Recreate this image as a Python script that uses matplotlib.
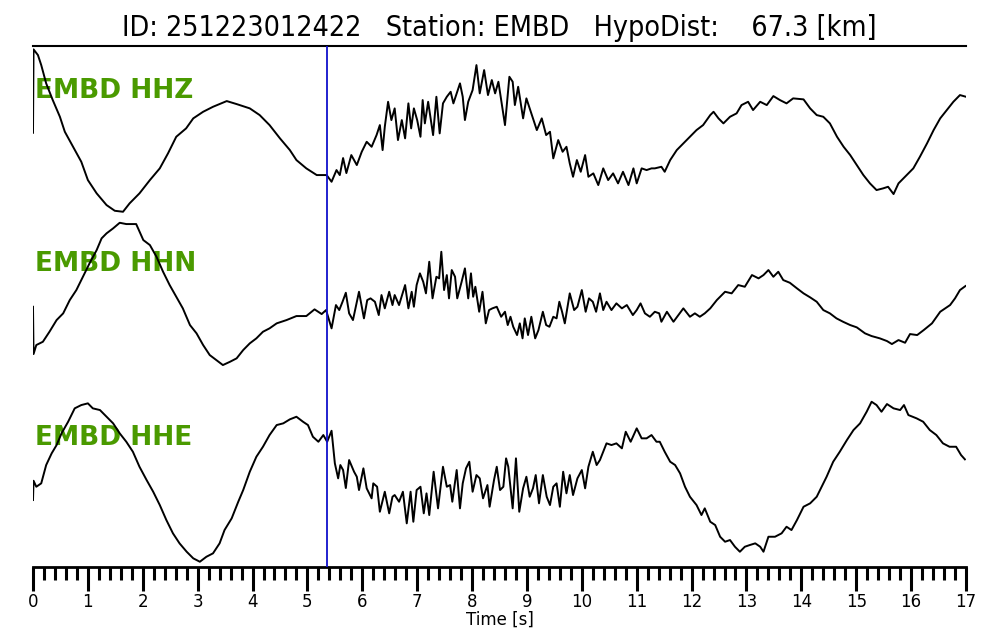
import matplotlib
matplotlib.use("Agg")
import matplotlib.pyplot as plt
import numpy as np
from matplotlib.ticker import MultipleLocator

# ---------------- data ----------------
title = "ID: 251223012422   Station: EMBD   HypoDist:    67.3 [km]"
channels = ["EMBD HHZ", "EMBD HHN", "EMBD HHE"]
pick_time = 5.354  # s

hhz_t = [0.00, 0.01, 0.09, 0.15, 0.24, 0.36, 0.49, 0.58, 0.73, 0.88, 1.00, 1.16, 1.34, 1.49, 1.64, 1.76,
         1.94, 2.13, 2.31, 2.46, 2.61, 2.79, 2.92, 3.10, 3.28, 3.53, 3.71, 3.95, 4.13, 4.31, 4.50, 4.68,
         4.80, 4.98, 5.17, 5.35, 5.44, 5.53, 5.59, 5.65, 5.71, 5.80, 5.90, 5.99, 6.08, 6.17, 6.26, 6.32,
         6.37, 6.41, 6.47, 6.53, 6.59, 6.65, 6.72, 6.78, 6.84, 6.89, 6.94, 7.00, 7.06, 7.10, 7.14, 7.20,
         7.24, 7.29, 7.35, 7.41, 7.47, 7.54, 7.61, 7.66, 7.72, 7.78, 7.83, 7.87, 7.93, 8.01, 8.08, 8.14,
         8.22, 8.29, 8.36, 8.42, 8.48, 8.54, 8.60, 8.68, 8.74, 8.78, 8.84, 8.93, 8.99, 9.08, 9.18, 9.27,
         9.35, 9.42, 9.48, 9.57, 9.65, 9.72, 9.78, 9.84, 9.91, 9.98, 10.06, 10.12, 10.21, 10.30, 10.39,
         10.48, 10.57, 10.66, 10.75, 10.85, 10.94, 11.00, 11.09, 11.18, 11.27, 11.33, 11.45, 11.51, 11.61,
         11.73, 11.85, 11.97, 12.09, 12.21, 12.34, 12.40, 12.49, 12.58, 12.70, 12.82, 12.91, 13.03, 13.12,
         13.25, 13.37, 13.49, 13.61, 13.73, 13.85, 14.04, 14.16, 14.28, 14.40, 14.52, 14.65, 14.77, 14.89,
         15.01, 15.13, 15.25, 15.37, 15.49, 15.58, 15.68, 15.77, 15.89, 16.04, 16.16, 16.29, 16.41, 16.53,
         16.65, 16.77, 16.89, 17.00]
hhz_a = [-2.7, 80.7, 75, 65, 46.7, 30, 13.3, -1.7, -16.7, -31.7, -50, -63.3, -75, -80.7, -81.7, -73.3,
         -63.3, -50, -38.3, -23.3, -6.7, 1.7, 11.7, 18.3, 23.3, 29, 26, 21.7, 15, 5, -8.3, -20,
         -30, -38.3, -45, -45, -51.7, -40, -45, -28, -43, -25, -35, -21.7, -11.7, -16.7, -5, 5,
         -20, 3.3, 28.3, 10, 21.7, -10, 10, -8.3, 26.7, 1.7, 21.7, 10, -6.7, 30, 6.7, 28.3,
         13.3, -5, 33.3, -3.3, 26.7, 33.3, 38.3, 26.7, 36.7, 46.7, 33.3, 10, 28.3, 40, 65, 36.7,
         60, 35, 50, 36.7, 48.3, 26.7, 5, 53.3, 48.3, 25, 43.3, 11.7, 31.7, 16.7, 0, 11.7,
         -5, -1.7, -28.3, -10, -21.7, -16.7, -33.3, -46.7, -30, -41.7, -25, -46.7, -43.3, -55, -38.3,
         -50, -43.3, -53.3, -41.7, -55, -38.3, -53.3, -38.3, -40, -38.3, -38.3, -36.7, -41.7, -30,
         -20, -13.3, -6.7, 0, 5, 15, 18.3, 11.7, 6.7, 13.3, 16.7, 25, 28.3, 20,
         28.3, 25, 34, 30, 26.7, 31.7, 30.7, 21.7, 15, 13.3, 6.7, -6.7, -16.7, -25,
         -35, -45, -53.3, -60, -58.3, -56.7, -64, -53.3, -46.7, -38.3, -26.7, -13.3, 0, 11.7,
         20, 28.3, 35, 33.3]

hhn_t = [0.00, 0.01, 0.06, 0.18, 0.30, 0.43, 0.55, 0.67, 0.79, 0.91, 1.03, 1.16, 1.25, 1.34, 1.46, 1.58,
         1.70, 1.88, 2.01, 2.13, 2.25, 2.37, 2.49, 2.61, 2.73, 2.86, 2.98, 3.10, 3.22, 3.34, 3.46, 3.59,
         3.71, 3.83, 3.95, 4.07, 4.19, 4.31, 4.44, 4.62, 4.80, 4.98, 5.13, 5.26, 5.34, 5.44, 5.52, 5.58,
         5.64, 5.70, 5.76, 5.83, 5.94, 6.03, 6.09, 6.15, 6.23, 6.30, 6.35, 6.41, 6.49, 6.55, 6.59, 6.67,
         6.78, 6.84, 6.90, 6.94, 6.99, 7.05, 7.11, 7.16, 7.22, 7.28, 7.35, 7.40, 7.44, 7.49, 7.54, 7.58,
         7.63, 7.69, 7.73, 7.81, 7.87, 7.93, 7.98, 8.02, 8.06, 8.13, 8.19, 8.25, 8.31, 8.37, 8.45, 8.53,
         8.60, 8.65, 8.70, 8.75, 8.82, 8.87, 8.92, 8.96, 9.02, 9.08, 9.15, 9.21, 9.29, 9.35, 9.41, 9.48,
         9.54, 9.59, 9.64, 9.69, 9.78, 9.86, 9.92, 10.00, 10.07, 10.13, 10.20, 10.26, 10.33, 10.39, 10.45,
         10.54, 10.63, 10.73, 10.82, 10.93, 11.00, 11.07, 11.15, 11.24, 11.33, 11.41, 11.45, 11.55, 11.67,
         11.76, 11.85, 11.97, 12.06, 12.15, 12.24, 12.34, 12.46, 12.61, 12.73, 12.85, 12.97, 13.10, 13.22,
         13.31, 13.40, 13.49, 13.58, 13.67, 13.79, 13.92, 14.04, 14.16, 14.28, 14.40, 14.52, 14.64, 14.76,
         14.89, 15.01, 15.16, 15.28, 15.43, 15.56, 15.65, 15.77, 15.89, 15.98, 16.11, 16.23, 16.38, 16.53,
         16.71, 16.80, 16.89, 16.99]
hhn_a = [-12.7, -60, -51, -47.7, -37.7, -26, -19.3, -6, 4, 17.3, 30.7, 44, 55.7, 60.7, 65.7, 71.3,
         70, 70, 54, 49, 37.3, 22.3, 9, -2.7, -14.3, -31, -39.3, -51, -61, -66, -71, -67.7,
         -64.3, -56, -49.3, -44.3, -37.7, -34.3, -29.3, -26, -22, -22, -15.3, -20, -16, -34.3, -11, -16,
         -7.7, 1.3, -19.3, -26, 2.3, -24.3, -6, -4.3, -7.7, -21, -1, -14.3, 2.3, -11, -1, -11,
         9, -14.3, 2.3, -12.7, 9, 20.7, 12.3, 0.7, 32.3, -4.3, 17.3, 15.7, 42.3, 4, 19, -4.3,
         24, 17.3, -4.3, 12.3, 25.7, -4.3, 20.7, -2.7, 7.3, -17.7, 2.3, -29.3, -16, -14.3, -12.7, -22.7,
         -17.7, -31, -22.7, -32.7, -41, -29.3, -44.3, -24.3, -41, -22.7, -44.3, -36, -17.7, -31, -32.7, -22.7,
         -24.3, -7.7, -17.7, -29.3, 0.7, -16, -12.7, 4, -17.7, -4.3, -7.7, -17.7, 0.7, -16, -7.7,
         -16, -9.3, -14.3, -11, -21, -16, -9.3, -19.3, -22.7, -17.7, -19.3, -27.7, -17.7, -27.7,
         -21, -14.3, -22.7, -19.3, -22.7, -19.3, -14.3, -6, 2.3, 0.7, 9, 7.3, 19, 15.7,
         19, 24, 17.3, 22.3, 14, 11.3, 5.7, 0.7, -3.3, -7.7, -16, -19.3, -24.3, -27.7,
         -31, -33.3, -39.3, -42, -44.3, -47, -50, -46, -48.7, -40, -41, -36, -29.3, -17.7,
         -11, -4.3, 4, 8]

hhe_t = [0.00, 0.01, 0.06, 0.15, 0.24, 0.34, 0.43, 0.52, 0.64, 0.76, 0.88, 1.00, 1.09, 1.22, 1.34, 1.46,
         1.58, 1.70, 1.82, 1.94, 2.07, 2.19, 2.31, 2.43, 2.55, 2.67, 2.80, 2.92, 3.04, 3.16, 3.28, 3.40,
         3.49, 3.62, 3.74, 3.83, 3.95, 4.07, 4.19, 4.31, 4.44, 4.56, 4.68, 4.80, 4.92, 5.01, 5.10, 5.20,
         5.29, 5.36, 5.44, 5.50, 5.56, 5.60, 5.65, 5.70, 5.76, 5.85, 5.90, 5.94, 6.02, 6.08, 6.17, 6.20,
         6.27, 6.32, 6.41, 6.49, 6.55, 6.59, 6.67, 6.74, 6.81, 6.88, 6.93, 6.99, 7.06, 7.12, 7.17, 7.22,
         7.30, 7.38, 7.47, 7.54, 7.60, 7.64, 7.72, 7.78, 7.83, 7.89, 7.95, 8.01, 8.08, 8.14, 8.20, 8.28,
         8.32, 8.40, 8.45, 8.51, 8.57, 8.62, 8.66, 8.74, 8.80, 8.86, 8.93, 8.99, 9.05, 9.11, 9.16, 9.22,
         9.29, 9.36, 9.42, 9.48, 9.54, 9.60, 9.66, 9.72, 9.78, 9.84, 9.92, 10.00, 10.06, 10.12, 10.20,
         10.27, 10.33, 10.39, 10.45, 10.54, 10.63, 10.73, 10.80, 10.89, 11.00, 11.09, 11.18, 11.27, 11.36,
         11.42, 11.51, 11.61, 11.70, 11.79, 11.88, 11.97, 12.09, 12.18, 12.24, 12.34, 12.43, 12.52, 12.61,
         12.70, 12.79, 12.88, 12.97, 13.06, 13.16, 13.25, 13.31, 13.40, 13.52, 13.64, 13.73, 13.82, 13.92,
         14.04, 14.16, 14.28, 14.37, 14.46, 14.58, 14.70, 14.83, 14.95, 15.07, 15.19, 15.28, 15.37, 15.46,
         15.56, 15.68, 15.80, 15.87, 15.95, 16.10, 16.22, 16.34, 16.46, 16.58, 16.70, 16.82, 16.91, 16.98]
hhe_a = [-18, 1.3, -4.7, -1.3, 17, 28.7, 37, 48.7, 60.3, 73.7, 77, 78.7, 73.7, 72, 65.3, 58.7,
         48.7, 40.3, 30.3, 15.3, 2, -9.7, -23, -38, -51.3, -61.3, -69.7, -76.3, -79.7, -74.7, -71.3, -61.3,
         -48, -36.3, -19.7, -8, 10.3, 25.3, 35.3, 47, 57, 58.7, 62.7, 65.3, 60.3, 57, 45.3, 40.3,
         47, 40.3, 51.3, 18.7, 3.7, 17, 12, -6, 22, 10.3, 5.3, -8, 13.7, -6.3, -16.3, -1.3,
         -4.7, -29.7, -9.7, -31.3, -14.7, -13, -19.7, -9.7, -41.3, -9.7, -39.7, -8, -4.7, -31.3, -11.3, -33,
         10.3, -26.3, 15.3, -4.7, -3, -19.7, 12, -26.3, -1.3, 13.7, 20.3, -9.7, 7, 3.7, -16.3, -3,
         -24.7, 2, 15.3, -8, -4.7, 23.7, 15.3, -26.3, 23.7, -29.7, -6.3, 5.3, -14.7, -6.3, 7, -21.3,
         7, -14.7, -23, -4.7, -1.3, -24.7, 10.3, -11.3, 7, -13, 3.7, 12, -6.3, 15.3, 30.3,
         17, 22, 30.3, 38.7, 37, 38.7, 33.7, 50.3, 40.3, 53.7, 43.7, 43.7, 47, 40.3,
         40.3, 30.3, 20.3, 17, 8.7, -4.7, -14.7, -23, -33, -26.3, -39.7, -43, -54.7, -59.7,
         -58, -64.7, -69.7, -64.7, -63, -61.3, -64.7, -69.7, -54.7, -54.7, -51.3, -44.7, -48, -38,
         -24.7, -21.3, -14.7, -4.7, 5.3, 20.3, 30.3, 42, 52, 58.7, 70.3, 80.3, 77, 70.3,
         78, 73.7, 72, 77, 67, 63.7, 60.3, 52, 47, 38.7, 35.3, 35.3, 27, 22.7]

traces = [(hhz_t, hhz_a), (hhn_t, hhn_a), (hhe_t, hhe_a)]
offsets = [437, 273, 85]          # vertical placement of each trace
label_y = [0.914, 0.582, 0.248]   # label position (axes fraction)

# ---------------- figure ----------------
fig = plt.figure(figsize=(10, 6.4), dpi=100)
ax = fig.add_axes([0.033, 0.114, 0.933, 0.814])

for (t, a), off in zip(traces, offsets):
    ax.plot(t, np.asarray(a) + off, color="black", lw=1.4, zorder=3)

for name, ly in zip(channels, label_y):
    ax.text(0.002, ly, name, transform=ax.transAxes, color="#4a9a00",
            fontsize=19, fontweight="bold", va="center", ha="left", zorder=2)

ax.axvline(pick_time, color="#1010cc", lw=1.3, zorder=4)

ax.set_xlim(0, 17)
ax.set_ylim(0, 521)
ax.set_yticks([])
for s in ("left", "right"):
    ax.spines[s].set_visible(False)
ax.spines["top"].set_linewidth(1.5)
ax.spines["bottom"].set_linewidth(2)

ax.xaxis.set_major_locator(MultipleLocator(1))
ax.xaxis.set_minor_locator(MultipleLocator(0.2))
ax.tick_params(axis="x", which="major", direction="out", length=17, width=2.2,
               labelsize=12, pad=1.5)
ax.tick_params(axis="x", which="minor", direction="out", length=9, width=2.2)
ax.set_xlabel("Time [s]", fontsize=12, labelpad=0)

ax.set_title(title, fontsize=20.5, fontstretch="condensed", pad=7)

fig.savefig("out.png", dpi=100)
